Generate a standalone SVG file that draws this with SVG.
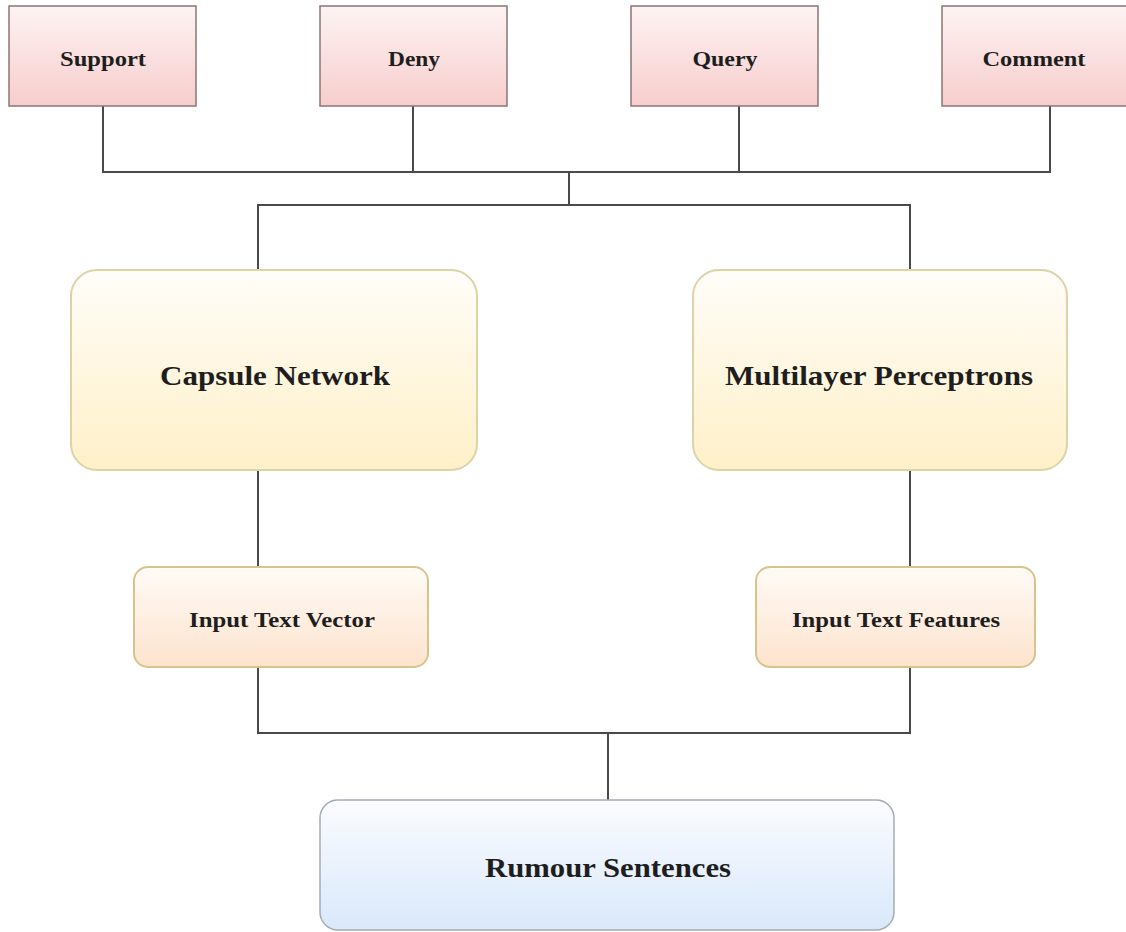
<svg xmlns="http://www.w3.org/2000/svg" width="1126" height="932" viewBox="0 0 1126 932">
<defs>
<linearGradient id="gPink" x1="0" y1="0" x2="0" y2="1"><stop offset="0" stop-color="#fdf3f3"/><stop offset="1" stop-color="#f7cdcc"/></linearGradient>
<linearGradient id="gYellow" x1="0" y1="0" x2="0" y2="1"><stop offset="0" stop-color="#fffdf9"/><stop offset="1" stop-color="#fff0c8"/></linearGradient>
<linearGradient id="gPeach" x1="0" y1="0" x2="0" y2="1"><stop offset="0" stop-color="#fffbf7"/><stop offset="1" stop-color="#fde3cd"/></linearGradient>
<linearGradient id="gBlue" x1="0" y1="0" x2="0" y2="1"><stop offset="0" stop-color="#fbfcfe"/><stop offset="1" stop-color="#d9e8fb"/></linearGradient>
<style>
.pink{fill:url(#gPink);stroke:#8a7676;stroke-width:1.5}
.yel{fill:url(#gYellow);stroke:#dcd3a6;stroke-width:2}
.peach{fill:url(#gPeach);stroke:#d8c48a;stroke-width:2}
.blue{fill:url(#gBlue);stroke:#a3acb5;stroke-width:1.5}
.t{font-family:"Liberation Serif","Times New Roman",serif;font-weight:bold;fill:#1e1e1e;text-anchor:middle}
.s{font-size:21px}
.m{font-size:21px}
.l{font-size:28px}
.c{fill:none;stroke:#4a4a4a;stroke-width:2}
</style>
</defs>
<rect width="1126" height="932" fill="#ffffff"/>
<g id="connectors">
<polyline class="c" points="103,106 103,172 1050,172 1050,106"/>
<line class="c" x1="413" y1="106" x2="413" y2="172"/>
<line class="c" x1="739" y1="106" x2="739" y2="172"/>
<line class="c" x1="569" y1="172" x2="569" y2="205"/>
<polyline class="c" points="258,270 258,205 910,205 910,270"/>
<line class="c" x1="258" y1="470" x2="258" y2="567"/>
<line class="c" x1="910" y1="470" x2="910" y2="567"/>
<polyline class="c" points="258,667 258,733 910,733 910,667"/>
<line class="c" x1="608" y1="733" x2="608" y2="800"/>
</g>
<g id="support"><rect class="pink" x="9" y="6" width="187" height="100"/><text class="t s" x="103" y="66" textLength="86" lengthAdjust="spacingAndGlyphs">Support</text></g>
<g id="deny"><rect class="pink" x="320" y="6" width="187" height="100"/><text class="t s" x="414" y="66" textLength="52" lengthAdjust="spacingAndGlyphs">Deny</text></g>
<g id="query"><rect class="pink" x="631" y="6" width="187" height="100"/><text class="t s" x="725" y="66" textLength="65" lengthAdjust="spacingAndGlyphs">Query</text></g>
<g id="comment"><rect class="pink" x="942" y="6" width="190" height="100"/><text class="t s" x="1034" y="66" textLength="103" lengthAdjust="spacingAndGlyphs">Comment</text></g>
<g id="capsule"><rect class="yel" x="71" y="270" width="406" height="200" rx="26"/><text class="t l" x="275" y="385" textLength="230" lengthAdjust="spacingAndGlyphs">Capsule Network</text></g>
<g id="mlp"><rect class="yel" x="693" y="270" width="374" height="200" rx="26"/><text class="t l" x="879" y="385" textLength="308" lengthAdjust="spacingAndGlyphs">Multilayer Perceptrons</text></g>
<g id="itv"><rect class="peach" x="134" y="567" width="294" height="100" rx="14"/><text class="t m" x="282" y="627" textLength="186" lengthAdjust="spacingAndGlyphs">Input Text Vector</text></g>
<g id="itf"><rect class="peach" x="756" y="567" width="279" height="100" rx="14"/><text class="t m" x="896" y="627" textLength="208" lengthAdjust="spacingAndGlyphs">Input Text Features</text></g>
<g id="rumour"><rect class="blue" x="320" y="800" width="574" height="130" rx="18"/><text class="t l" x="608" y="877" textLength="246" lengthAdjust="spacingAndGlyphs">Rumour Sentences</text></g>
</svg>
